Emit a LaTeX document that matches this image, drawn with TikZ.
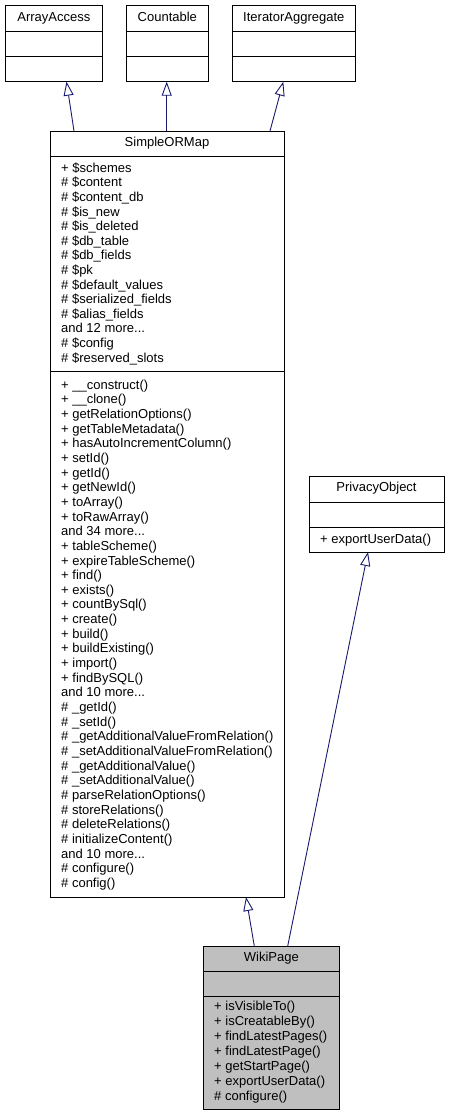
\documentclass[tikz,border=0pt]{standalone}
\usepackage{fontspec}
\setmainfont{Liberation Sans}
\usetikzlibrary{arrows.meta}
\definecolor{edgeblue}{HTML}{191970}
\definecolor{wikigray}{HTML}{BFBFBF}
\newcommand\mymore[1]{and #1 more...}
\begin{document}
\begin{tikzpicture}[x=1pt,y=-1pt,
  box/.style={draw=black, line width=0.9pt, anchor=north west, inner sep=0pt, outer sep=0pt},
  sep/.style={draw=black, line width=0.9pt},
  txt/.style={anchor=base west, inner sep=0pt, font=\fontsize{13}{14}\selectfont},
  ttl/.style={anchor=base, inner sep=0pt, font=\fontsize{13}{14}\selectfont},
  inh/.style={draw=edgeblue, line width=0.9pt, -{Triangle[open, length=14pt, width=10pt]}}
]
\fill[white] (0,0) rectangle (449,1116);
\useasboundingbox (0,0) rectangle (449,1116);

% --- top interfaces
\node[box, minimum width=97.7pt, minimum height=76pt] (arr) at (5,5.7) {};
\node[box, minimum width=81.3pt, minimum height=76pt] (cnt) at (126.7,5.7) {};
\node[box, minimum width=123pt, minimum height=76pt] (itr) at (232.3,5.7) {};
\foreach \b in {arr,cnt,itr}{
  \draw[sep] ([yshift=-26pt]\b.north west) -- ([yshift=-26pt]\b.north east);
  \draw[sep] ([yshift=-51pt]\b.north west) -- ([yshift=-51pt]\b.north east);
}
\node[ttl] (arrt) at (53.85,21.5) {ArrayAccess};
\node[ttl] (cntt) at (167.35,21.5) {Countable};
\node[ttl] (itrt) at (293.8,21.5) {IteratorAggregate};

% --- SimpleORMap
\node[box, minimum width=234pt, minimum height=766pt] (sorm) at (50,131) {};
\draw[sep] ([yshift=-25pt]sorm.north west) -- ([yshift=-25pt]sorm.north east);
\draw[sep] ([yshift=-240.5pt]sorm.north west) -- ([yshift=-240.5pt]sorm.north east);
\node[ttl] (sormt) at (167,146.9) {SimpleORMap};
\foreach \t [count=\i] in {
  + \$schemes, \# \$content, \# \$content\_db, \# \$is\_new, \# \$is\_deleted,
  \# \$db\_table, \# \$db\_fields, \# \$pk, \# \$default\_values,
  \# \$serialized\_fields, \# \$alias\_fields, \mymore{12}, \# \$config,
  \# \$reserved\_slots}
  \node[txt] (sa\i) at (61,{172.2+14.6*(\i-1)}) {\t};
\foreach \t [count=\i] in {
  + \_\_construct(), + \_\_clone(), + getRelationOptions(), + getTableMetadata(),
  + hasAutoIncrementColumn(), + setId(), + getId(), + getNewId(), + toArray(),
  + toRawArray(), \mymore{34}, + tableScheme(), + expireTableScheme(),
  + find(), + exists(), + countBySql(), + create(), + build(), + buildExisting(),
  + import(), + findBySQL(), \mymore{10}, \# \_getId(), \# \_setId(),
  \# \_getAdditionalValueFromRelation(), \# \_setAdditionalValueFromRelation(),
  \# \_getAdditionalValue(), \# \_setAdditionalValue(), \# parseRelationOptions(),
  \# storeRelations(), \# deleteRelations(), \# initializeContent(),
  \mymore{10}, \# configure(), \# config()}
  \node[txt] (sm\i) at (61,{389.2+14.65*(\i-1)}) {\t};

% --- PrivacyObject
\node[box, minimum width=135pt, minimum height=76pt] (priv) at (309,476) {};
\draw[sep] ([yshift=-26pt]priv.north west) -- ([yshift=-26pt]priv.north east);
\draw[sep] ([yshift=-51pt]priv.north west) -- ([yshift=-51pt]priv.north east);
\node[ttl] (privt) at (376.5,491.5) {PrivacyObject};
\node[txt] (privm) at (320,543.5) {+ exportUserData()};

% --- WikiPage
\node[box, fill=wikigray, minimum width=136pt, minimum height=163.3pt] (wiki) at (203.3,946) {};
\draw[sep] ([yshift=-25pt]wiki.north west) -- ([yshift=-25pt]wiki.north east);
\draw[sep] ([yshift=-50.7pt]wiki.north west) -- ([yshift=-50.7pt]wiki.north east);
\node[ttl] (wikit) at (271.3,961.5) {WikiPage};
\foreach \t [count=\i] in {
  + isVisibleTo(), + isCreatableBy(), + findLatestPages(), + findLatestPage(),
  + getStartPage(), + exportUserData(), \# configure()}
  \node[txt] (wm\i) at (214,{1010.9+15*(\i-1)}) {\t};

% --- inheritance connectors
\coordinate (s1) at ([xshift=24pt]sorm.north west);
\coordinate (s2) at ([xshift=116.7pt]sorm.north west);
\coordinate (s3) at ([xshift=220pt]sorm.north west);
\coordinate (a1) at ([xshift=61.5pt]arr.south west);
\coordinate (c1) at ([xshift=40pt]cnt.south west);
\coordinate (i1) at ([xshift=51pt]itr.south west);
\draw[inh] (s1) -- (a1);
\draw[inh] (s2) -- (c1);
\draw[inh] (s3) -- (i1);
\coordinate (w1) at ([xshift=51pt]wiki.north west);
\coordinate (w2) at ([xshift=84.4pt]wiki.north west);
\coordinate (s4) at ([xshift=196pt]sorm.south west);
\coordinate (p1) at ([xshift=59pt]priv.south west);
\draw[inh] (w1) -- (s4);
\draw[inh] (w2) -- (p1);
\end{tikzpicture}
\end{document}
